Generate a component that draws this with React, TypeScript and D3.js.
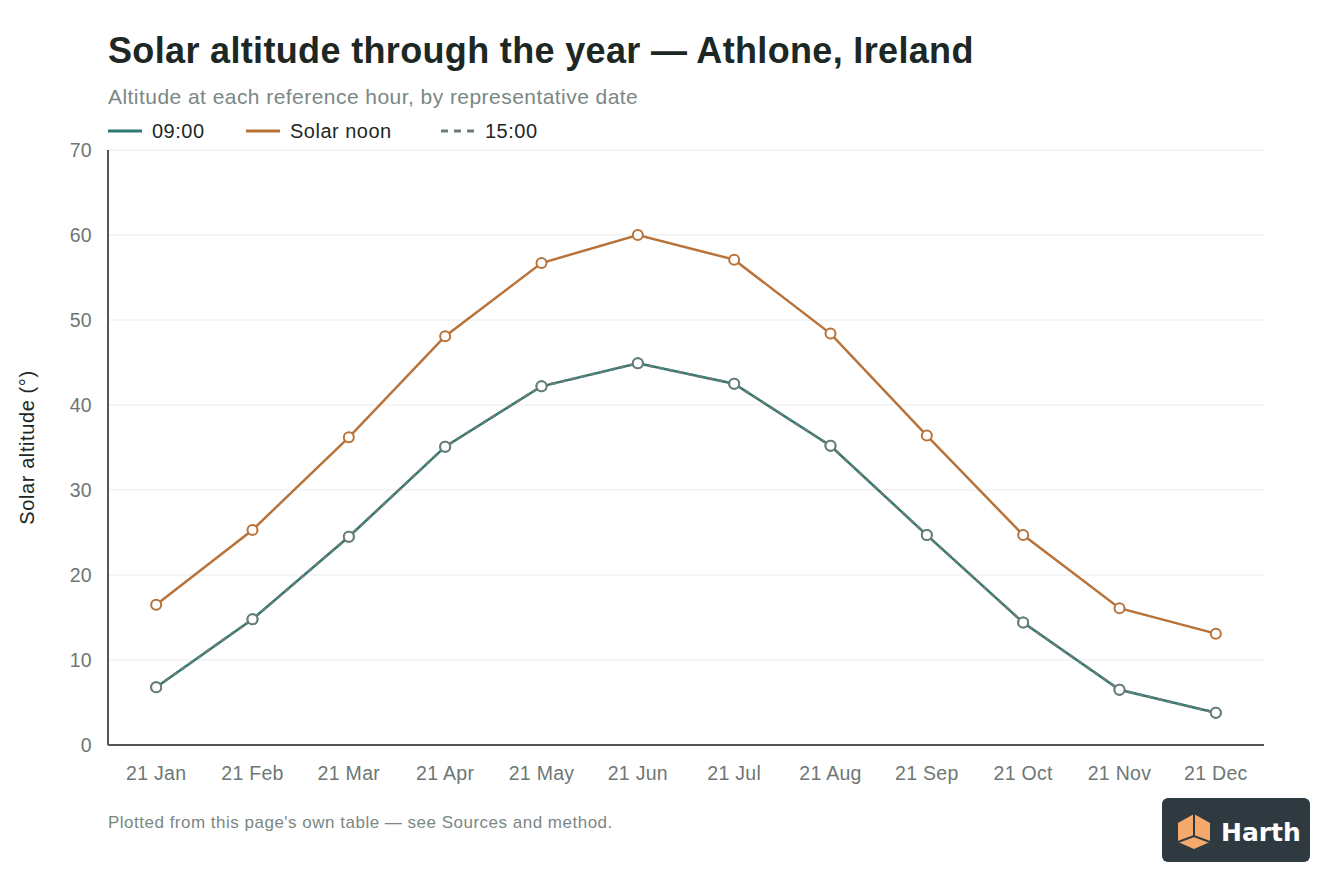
import React from "react";
import * as d3 from "d3";

const months = ["21 Jan", "21 Feb", "21 Mar", "21 Apr", "21 May", "21 Jun", "21 Jul", "21 Aug", "21 Sep", "21 Oct", "21 Nov", "21 Dec"];
const noon = [16.5, 25.3, 36.2, 48.1, 56.7, 60.0, 57.1, 48.4, 36.4, 24.7, 16.1, 13.1];
const nine = [6.8, 14.8, 24.5, 35.1, 42.2, 44.9, 42.5, 35.2, 24.7, 14.4, 6.5, 3.8];
const fifteen = [6.8, 14.8, 24.5, 35.1, 42.2, 44.9, 42.5, 35.2, 24.7, 14.4, 6.5, 3.8];
const yTicks = [0, 10, 20, 30, 40, 50, 60, 70];

const FONT = "'Liberation Sans', Arial, Helvetica, sans-serif";
const W = 1344;
const H = 896;
const left = 108;
const right = 1264;
const top = 150;
const bottom = 745;

export default function App() {
  const x = d3.scalePoint<string>().domain(months).range([left, right]).padding(0.5);
  const y = d3.scaleLinear().domain([0, 70]).range([bottom, top]);
  const line = d3
    .line<number>()
    .x((_, i) => x(months[i]) as number)
    .y((d) => y(d));

  const series = [
    { name: "09:00", values: nine, color: "#2b7a72", dash: undefined, dot: "#2b7a72" },
    { name: "Solar noon", values: noon, color: "#b8733a", dash: undefined, dot: "#b8733a" },
    { name: "15:00", values: fifteen, color: "#6b7d78", dash: "6 4", dot: "#6b7d78" },
  ];
  const legendX = [108, 246, 441];

  return (
    <svg width={W} height={H} style={{ display: "block", position: "absolute", left: 0, top: 0 }} fontFamily={FONT}>
      <rect width={W} height={H} fill="#ffffff" />
      <text x={108} y={63} fontSize={36} fontWeight={700} fill="#1d2825" letterSpacing={0.34}>
        Solar altitude through the year — Athlone, Ireland
      </text>
      <text x={108} y={104} fontSize={21} fill="#7b8784" letterSpacing={0.45}>
        Altitude at each reference hour, by representative date
      </text>

      {series.map((s, i) => (
        <g key={s.name} transform={`translate(${legendX[i]},131)`}>
          <line x1={0} x2={34} y1={0} y2={0} stroke={s.color} strokeWidth={3} strokeDasharray={s.dash ? "7 6" : undefined} />
          <text x={44} y={7} fontSize={20} fill="#1d2825" letterSpacing={0.5}>{s.name}</text>
        </g>
      ))}

      {yTicks.map((t) => (
        <g key={t}>
          {t > 0 && <line x1={left} x2={right} y1={y(t)} y2={y(t)} stroke="#ebebeb" strokeWidth={1} />}
          <text x={92} y={y(t) + 7} fontSize={19.5} fill="#6e7774" textAnchor="end" letterSpacing={0.3}>{t}</text>
        </g>
      ))}
      <line x1={left} x2={left} y1={top} y2={bottom} stroke="#555" strokeWidth={2} />
      <line x1={left} x2={right} y1={bottom} y2={bottom} stroke="#555" strokeWidth={2} />
      {months.map((m) => (
        <text key={m} x={x(m)} y={780} fontSize={19.5} fill="#6e7774" textAnchor="middle" letterSpacing={0.3}>{m}</text>
      ))}
      <text transform={`translate(34,${(top + bottom) / 2}) rotate(-90)`} fontSize={20} fill="#1d2825" textAnchor="middle" letterSpacing={0.6}>
        Solar altitude (°)
      </text>

      {series.map((s) => (
        <path key={s.name} d={line(s.values) as string} fill="none" stroke={s.color} strokeWidth={2.5} strokeDasharray={s.dash} />
      ))}
      {series.map((s) => (
        <g key={s.name + "-pts"}>
          {s.values.map((v, i) => (
            <circle key={i} cx={x(months[i])} cy={y(v)} r={5} fill="#fff" stroke={s.dot} strokeWidth={2} />
          ))}
        </g>
      ))}

      <text x={108} y={828} fontSize={17} fill="#7b8784" letterSpacing={0.5}>
        Plotted from this page's own table — see Sources and method.
      </text>

      <g transform="translate(1162,798)">
        <rect width={148} height={64} rx={6} fill="#2f3a40" />
        <g transform="translate(16,14)">
          <polygon points="0,11 16,2 32,11 32,30 16,37 0,30" fill="#f5a96c" />
          <path d="M16,2 L16,24 M0,30 L16,24 L32,30" stroke="#2f3a40" strokeWidth={2} fill="none" />
        </g>
        <text x={59} y={43} fontSize={25} fontWeight={700} fill="#ffffff" fontFamily="'DejaVu Sans', sans-serif">Harth</text>
      </g>
    </svg>
  );
}
